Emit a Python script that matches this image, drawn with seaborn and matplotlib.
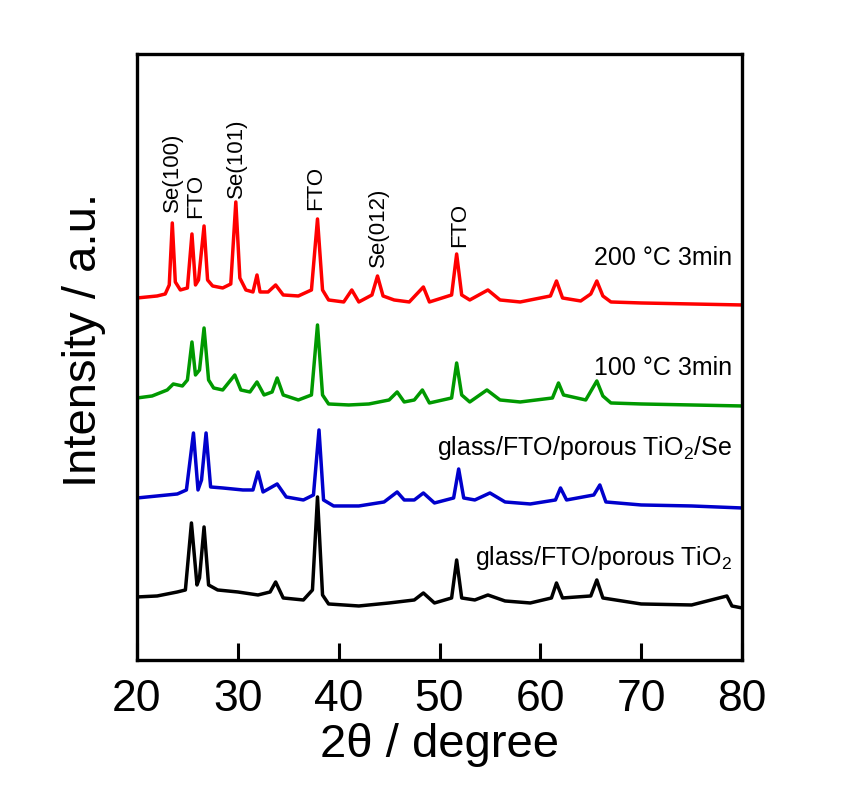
import numpy as np
import pandas as pd
import matplotlib
matplotlib.use("Agg")
import matplotlib.pyplot as plt
import seaborn as sns

# 2-theta positions (deg) and intensities (a.u.)
tt_red = [20.0, 21.0, 22.0, 22.8, 23.2, 23.5, 23.8, 24.3, 25.0, 25.45, 25.8, 26.1, 26.65, 27.0,
          27.5, 28.5, 29.3, 29.8, 30.2, 30.8, 31.5, 31.9, 32.2, 33.0, 33.75, 34.5, 36.0, 37.3,
          37.9, 38.4, 39.0, 40.5, 41.3, 42.0, 43.3, 43.85, 44.4, 45.5, 47.0, 48.4, 49.0, 51.2,
          51.7, 52.2, 53.0, 54.8, 56.0, 58.0, 61.0, 61.6, 62.2, 64.0, 65.0, 65.6, 66.2, 67.0,
          70.0, 75.0, 80.0]
int_red = [12, 13, 14, 16, 25, 87, 28, 20, 22, 76, 25, 30, 84, 30,
           24, 22, 26, 108, 32, 20, 18, 35, 18, 18, 25, 15, 14, 20,
           91, 20, 10, 8, 20, 8, 15, 34, 14, 10, 8, 23, 8, 15,
           56, 15, 10, 20, 10, 8, 14, 29, 12, 9, 16, 29, 14, 8,
           7, 6, 5]

tt_green = [20.0, 21.5, 23.0, 23.6, 24.5, 25.0, 25.45, 25.8, 26.2, 26.65, 27.1, 27.6, 28.5, 29.7,
            30.3, 31.2, 31.9, 32.6, 33.4, 33.9, 34.5, 36.0, 37.3, 37.9, 38.4, 39.0, 41.0, 43.0,
            45.0, 45.8, 46.5, 47.5, 48.3, 49.0, 51.2, 51.7, 52.2, 53.0, 54.7, 56.0, 58.0, 61.2,
            61.8, 62.3, 64.5, 65.6, 66.2, 67.0, 70.0, 75.0, 80.0]
int_green = [12, 14, 20, 26, 24, 30, 68, 35, 40, 82, 30, 22, 20, 35,
             20, 18, 28, 15, 18, 32, 15, 10, 15, 85, 15, 6, 5, 6,
             10, 18, 8, 10, 20, 7, 12, 47, 15, 8, 20, 10, 8, 12,
             27, 15, 10, 29, 14, 7, 6, 5, 4]

tt_blue = [20.0, 22.0, 24.0, 24.9, 25.6, 26.05, 26.4, 26.85, 27.3, 28.5, 30.5, 31.5, 32.0, 32.5,
           33.9, 34.8, 36.5, 37.5, 38.05, 38.5, 39.5, 42.0, 44.5, 45.8, 46.5, 47.5, 48.4, 49.5,
           51.4, 51.9, 52.4, 53.5, 55.0, 56.5, 59.0, 61.5, 62.0, 62.6, 65.3, 65.9, 66.5, 70.0,
           75.0, 80.0]
int_blue = [12, 14, 16, 20, 77, 20, 30, 77, 23, 22, 20, 20, 38, 18,
            26, 13, 10, 15, 80, 10, 4, 4, 8, 18, 10, 10, 17, 7,
            12, 41, 12, 10, 17, 8, 6, 10, 22, 10, 15, 25, 8, 5,
            4, 2]

tt_black = [20.0, 22.0, 24.0, 24.8, 25.4, 25.95, 26.2, 26.65, 27.1, 28.0, 30.0, 32.0, 33.2, 33.75,
            34.5, 36.5, 37.4, 37.9, 38.4, 39.0, 42.0, 45.0, 47.5, 48.4, 49.5, 51.2, 51.7, 52.2,
            53.5, 54.8, 56.5, 59.0, 61.1, 61.6, 62.2, 65.0, 65.6, 66.2, 70.0, 75.0, 78.5, 79.0,
            80.0]
int_black = [13, 14, 18, 20, 87, 25, 32, 83, 25, 20, 18, 15, 18, 28,
             12, 10, 20, 113, 15, 6, 4, 7, 10, 17, 7, 12, 50, 12,
             10, 15, 9, 7, 12, 27, 12, 14, 30, 12, 6, 5, 14, 4,
             2]

samples = ["glass/FTO/porous TiO$_2$", "glass/FTO/porous TiO$_2$/Se",
           "100 °C 3min", "200 °C 3min"]
offsets = [50, 150, 250, 350]
colors = ["#000000", "#0000CC", "#009900", "#FF0000"]
label_y = [95, 205, 285, 395]

peak_labels = ["Se(100)", "FTO", "Se(101)", "FTO", "Se(012)", "FTO"]
peak_x = [23.5, 25.85, 29.87, 37.76, 43.96, 52.04]
peak_y = [448, 442, 462, 450, 393, 413]

series = [(tt_black, int_black), (tt_blue, int_blue), (tt_green, int_green), (tt_red, int_red)]
frames = []
for name, off, (tt, it) in zip(samples, offsets, series):
    frames.append(pd.DataFrame({"tt": tt, "y": np.array(it) + off, "sample": name}))
df = pd.concat(frames, ignore_index=True)

sns.set_style("ticks", {"axes.edgecolor": "black", "text.color": "black",
                        "xtick.color": "black", "axes.labelcolor": "black"})
plt.rcParams["font.family"] = ["Liberation Sans", "DejaVu Sans"]
plt.rcParams["mathtext.fontset"] = "custom"
plt.rcParams["mathtext.rm"] = "Liberation Sans"
plt.rcParams["mathtext.it"] = "Liberation Sans"

fig = plt.figure(figsize=(8.53, 8.08), dpi=100)
ax = fig.add_axes([0.1606, 0.1832, 0.7093, 0.75])

sns.lineplot(data=df, x="tt", y="y", hue="sample", palette=dict(zip(samples, colors)),
             linewidth=2.5, legend=False, ax=ax, estimator=None)

for name, ly in zip(samples, label_y):
    ax.text(79.05, ly, name, ha="right", va="baseline", fontsize=18, color="black")

for lab, px, py in zip(peak_labels, peak_x, peak_y):
    ax.text(px, py, lab, rotation=90, ha="center", va="bottom", fontsize=16, color="black")

ax.set_xlim(20, 80)
ax.set_ylim(0, 606)
ax.set_xticks(range(20, 81, 10))
ax.set_yticks([])
ax.tick_params(axis="x", direction="in", length=12, width=2.2, labelsize=32, pad=14,
               colors="black")
for sp in ax.spines.values():
    sp.set_linewidth(2.4)
    sp.set_color("black")
ax.set_xlabel("2θ / degree", fontsize=34, labelpad=2, color="black")
ax.set_ylabel("Intensity / a.u.", fontsize=34, labelpad=22, color="black")
ax.yaxis.label.set_y(0.528)

fig.savefig("out.png", dpi=100)
